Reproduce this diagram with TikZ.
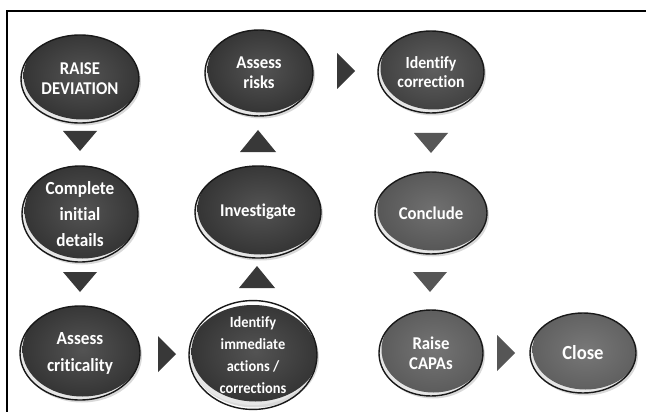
\documentclass[tikz,border=0pt]{standalone}
\usepackage{fontspec}
\setmainfont{Carlito}[FakeStretch=0.93, Ligatures=NoCommon]
\usetikzlibrary{shapes.geometric}

\definecolor{darkbub}{HTML}{353535}
\definecolor{corrbub}{HTML}{424242}
\definecolor{midbub}{HTML}{575757}
\definecolor{capabub}{HTML}{5C5C5C}
\definecolor{closebub}{HTML}{606060}
\definecolor{rimlight}{HTML}{E6E6E6}
\definecolor{tridark}{HTML}{383838}
\definecolor{trimid}{HTML}{565656}

\tikzset{
  bub/.style={ellipse, draw=black!90, line width=1.4pt, inner sep=0pt,
    text=white, align=center, font=\bfseries\fontsize{18}{20}\selectfont},
  tridown/.pic={\fill[pic actions] (-17,0) -- (17,0) -- (0,20) -- cycle;},
  triup/.pic={\fill[pic actions] (-18,0) -- (18,0) -- (0,-22) -- cycle;},
  triright/.pic={\fill[pic actions] (0,-18) -- (0,18) -- (18,0) -- cycle;},
}

% glossy bubble: name, x, y, x radius, y radius, colour, font, text
\newcommand\bubble[8]{%
  \fill[black,opacity=.15] ([shift={(2pt,-2.5pt)}]#2,#3) ellipse [x radius=#4pt, y radius=#5pt];
  \begin{scope}
    \clip (#2,#3) ellipse [x radius=#4pt, y radius=#5pt];
    \fill[rimlight] (#2,#3) ellipse [x radius=#4pt, y radius=#5pt];
    \shade[inner color=#6!85!white, outer color=#6]
      ([shift={(2.5pt,3.5pt)}]#2,#3) ellipse [x radius=#4pt, y radius=#5pt];
  \end{scope}
  \node[bub, minimum width={2*#4pt}, minimum height={2*#5pt}, #7] (#1) at (#2,#3) {#8};
}

\begin{document}
\begin{tikzpicture}[x=1pt, y=-1pt]
  \useasboundingbox (0,0) rectangle (646,412);
  \fill[white] (0,0) rectangle (646,412);

  % frame lines
  \draw[line width=2pt, black] (7,412) -- (7,11) -- (646,11);

  % process steps
  \bubble{raise}{80}{79}{59}{44}{darkbub}{}{RAISE\\DEVIATION}
  \bubble{risks}{259}{73}{54}{43}{darkbub}{}{Assess\\risks}
  \bubble{corr}{431}{72}{53}{41}{corrbub}{font=\bfseries\fontsize{17}{19}\selectfont}{Identify\\correction}
  \bubble{complete}{80}{214}{58}{48}{darkbub}{font=\bfseries\fontsize{18.5}{26}\selectfont}{Complete\\initial\\details}
  \bubble{invest}{258}{212}{63}{46}{darkbub}{}{Investigate}
  \bubble{conclude}{431}{213}{56}{41}{midbub}{}{Conclude}
  \bubble{critical}{80}{353}{60}{47}{darkbub}{font=\bfseries\fontsize{18.5}{27}\selectfont}{Assess\\criticality}
  \bubble{immediate}{253}{355}{64}{50}{darkbub}{font=\bfseries\fontsize{15.5}{22}\selectfont}{Identify\\immediate\\actions /\\corrections}
  \bubble{capas}{431}{353}{52}{43}{capabub}{}{Raise\\CAPAs}
  \bubble{close}{583}{353}{53}{40}{closebub}{font=\bfseries\fontsize{20}{22}\selectfont}{Close}

  % flow markers between the steps
  \pic[fill=tridark] at (80,131) {tridown};
  \pic[fill=tridark] at (80,272) {tridown};
  \pic[fill=tridark] at (158,354) {triright};
  \pic[fill=tridark] at (257,288) {triup};
  \pic[fill=tridark] at (258,152) {triup};
  \pic[fill=tridark] at (337,71) {triright};
  \pic[fill=trimid] at (431,133) {tridown};
  \pic[fill=trimid] at (430,272) {tridown};
  \pic[fill=trimid] at (497,353) {triright};
\end{tikzpicture}
\end{document}
